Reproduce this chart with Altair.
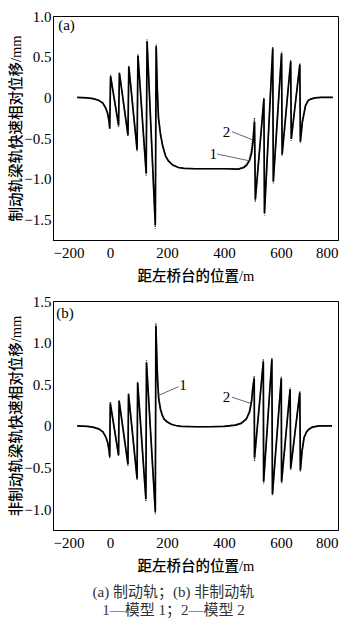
import altair as alt
import pandas as pd

FONT = "'Liberation Serif', 'Times New Roman', 'Noto Sans CJK SC', serif"

# ---------- panel (a): braking rail ----------
top_x = [-115, -80, -60, -40, -25, -15, -8, -3, -1,
         2, 30, 33, 63, 66, 95, 98, 127, 130, 159, 162,
         166, 170, 177, 185, 195, 205, 220, 240, 260, 300, 350, 400, 450,
         470, 480, 490, 497, 503, 507,
         510, 540, 542, 571, 573, 602, 604, 634, 636, 666, 668,
         675, 686, 695, 704, 720, 740, 782]
top_y1 = [0, -0.005, -0.015, -0.035, -0.07, -0.13, -0.2, -0.3, -0.38,
          0.26, -0.34, 0.30, -0.46, 0.38, -0.64, 0.51, -0.93, 0.69, -1.57, 0.63,
          0.1, -0.25, -0.45, -0.6, -0.72, -0.78, -0.83, -0.86, -0.87, -0.875, -0.875, -0.875, -0.88,
          -0.86, -0.83, -0.77, -0.68, -0.5, -0.3,
          -1.25, -0.02, -1.42, 0.6, -1.03, 0.54, -0.7, 0.44, -0.51, 0.4, -0.54,
          -0.3, -0.1, -0.04, -0.02, -0.005, 0, 0]
top_y2 = [0, -0.005, -0.015, -0.035, -0.07, -0.13, -0.2, -0.31, -0.39,
          0.28, -0.36, 0.31, -0.48, 0.39, -0.66, 0.53, -0.96, 0.71, -1.61, 0.66,
          0.12, -0.22, -0.43, -0.59, -0.71, -0.78, -0.83, -0.86, -0.87, -0.875, -0.875, -0.875, -0.88,
          -0.85, -0.81, -0.74, -0.62, -0.42, -0.25,
          -1.28, 0.0, -1.45, 0.62, -1.06, 0.56, -0.72, 0.46, -0.53, 0.42, -0.56,
          -0.31, -0.1, -0.04, -0.02, -0.005, 0, 0]
top_lab_t = ["2", "1"]
top_lab_x = [409, 362]
top_lab_y = [-0.43, -0.69]
top_ld_x = [428, 376]
top_ld_y = [-0.42, -0.695]
top_ld_x2 = [500, 492]
top_ld_y2 = [-0.52, -0.78]

# ---------- panel (b): non-braking rail ----------
bot_x = [-115, -80, -60, -40, -25, -15, -8, -3, -1,
         1, 30, 32, 63, 65, 95, 97, 126, 128, 159, 161,
         164, 167, 171, 177, 183, 190, 200, 215, 230, 250, 300, 350, 400, 440, 460,
         478, 490, 497, 501, 506,
         507, 538, 539, 568, 570, 601, 602, 632, 634, 666, 668,
         674, 681, 690, 698, 710, 733, 779]
bot_y1 = [0, -0.005, -0.015, -0.035, -0.07, -0.13, -0.2, -0.3, -0.37,
          0.27, -0.35, 0.30, -0.46, 0.38, -0.63, 0.52, -0.88, 0.76, -1.03, 1.2,
          0.85, 0.55, 0.32, 0.2, 0.13, 0.08, 0.05, 0.02, 0.005, -0.005, -0.01, -0.01, -0.005, 0.01, 0.03,
          0.08, 0.17, 0.3, 0.45, 0.57,
          -0.38, 0.77, -0.67, 0.8, -0.82, 0.57, -0.67, 0.44, -0.51, 0.4, -0.53,
          -0.3, -0.14, -0.07, -0.04, -0.015, 0, 0]
bot_y2 = [0, -0.005, -0.015, -0.035, -0.07, -0.13, -0.2, -0.31, -0.39,
          0.29, -0.36, 0.31, -0.48, 0.39, -0.65, 0.53, -0.91, 0.79, -1.06, 1.24,
          0.9, 0.6, 0.35, 0.22, 0.14, 0.09, 0.05, 0.02, 0.005, -0.005, -0.01, -0.01, -0.005, 0.01, 0.035,
          0.09, 0.19, 0.33, 0.48, 0.6,
          -0.42, 0.80, -0.70, 0.82, -0.84, 0.59, -0.69, 0.46, -0.53, 0.42, -0.55,
          -0.31, -0.14, -0.07, -0.04, -0.015, 0, 0]
bot_lab_t = ["1", "2"]
bot_lab_x = [256, 409]
bot_lab_y = [0.49, 0.35]
bot_ld_x = [240, 428]
bot_ld_y = [0.47, 0.345]
bot_ld_x2 = [166, 494]
bot_ld_y2 = [0.36, 0.27]

x_ticks = [-200, 0, 200, 400, 600, 800]
x_title = "距左桥台的位置/m"
caption1 = "(a) 制动轨；(b) 非制动轨"
caption2 = "1—模型 1；2—模型 2"

W = 285


def panel(xs_, y1, y2, lt, lx, ly, ldx, ldy, ldx2, ldy2, tag, tagx, tagy, ydom, yvals, ytitle, h):
    d1 = pd.DataFrame({"x": xs_, "y": y1, "i": list(range(len(xs_)))})
    d2 = pd.DataFrame({"x": xs_, "y": y2, "i": list(range(len(xs_)))})
    dl = pd.DataFrame({"x": ldx, "y": ldy, "x2": ldx2, "y2": ldy2})
    dt = pd.DataFrame({"x": lx, "y": ly, "t": lt})
    dtag = pd.DataFrame({"x": [tagx], "y": [tagy], "t": [tag]})
    xs = alt.Scale(domain=[-200, 800], nice=False, zero=False)
    ys = alt.Scale(domain=ydom, nice=False, zero=False)
    xax = alt.Axis(values=x_ticks, title=x_title, grid=False, format="d", ticks=False,
                   labelPadding=5, titlePadding=9)
    yax = alt.Axis(values=yvals, title=ytitle, grid=False, ticks=False, labelPadding=2,
                   titlePadding=0,
                   labelExpr="datum.value == 0 ? '0' : format(datum.value, '.1f')")
    X = alt.X("x:Q", scale=xs, axis=xax)
    Y = alt.Y("y:Q", scale=ys, axis=yax)
    l2 = alt.Chart(d2).mark_line(color="#333", strokeWidth=1.3, strokeDash=[1, 1.2]).encode(
        x=X, y=Y, order="i:Q")
    l1 = alt.Chart(d1).mark_line(color="black", strokeWidth=1.7).encode(
        x=X, y=Y, order="i:Q")
    ld = alt.Chart(dl).mark_rule(color="#555", strokeWidth=0.9).encode(
        x=X, y=Y, x2="x2:Q", y2="y2:Q")
    tx = alt.Chart(dt).mark_text(font=FONT, fontSize=15, align="center", baseline="middle").encode(
        x=X, y=Y, text="t:N")
    tg = alt.Chart(dtag).mark_text(font=FONT, fontSize=15, align="left", baseline="middle").encode(
        x=X, y=Y, text="t:N")
    return alt.layer(l2, l1, ld, tx, tg).properties(width=W, height=h)


top = panel(top_x, top_y1, top_y2, top_lab_t, top_lab_x, top_lab_y,
            top_ld_x, top_ld_y, top_ld_x2, top_ld_y2,
            "(a)", -182, 0.89, [-1.75, 1.0], [-1.5, -1.0, -0.5, 0, 0.5, 1.0],
            "制动轨梁轨快速相对位移/mm", 224)
bot = panel(bot_x, bot_y1, bot_y2, bot_lab_t, bot_lab_x, bot_lab_y,
            bot_ld_x, bot_ld_y, bot_ld_x2, bot_ld_y2,
            "(b)", -189, 1.36, [-1.25, 1.5], [-1.0, -0.5, 0, 0.5, 1.0, 1.5],
            "非制动轨梁轨快速相对位移/mm", 229)

chart = alt.vconcat(top, bot, spacing=10).properties(
    padding={"left": 0, "top": 0, "right": 0, "bottom": 0},
    title=alt.TitleParams(text=caption1, subtitle=caption2, orient="bottom", anchor="middle",
                          frame="bounds", font=FONT, fontSize=15, fontWeight="normal",
                          subtitleFont=FONT, subtitleFontSize=15, subtitleColor="#333",
                          color="#333", offset=12, subtitlePadding=3)
).configure_view(stroke="black", strokeWidth=1).configure_axis(
    labelFont=FONT, titleFont=FONT, labelFontSize=15, titleFontSize=14.5,
    titleFontWeight=500, labelColor="black", titleColor="black",
    domainColor="black"
)

chart.save("out.html", embed_options={"renderer": "svg", "actions": False})
